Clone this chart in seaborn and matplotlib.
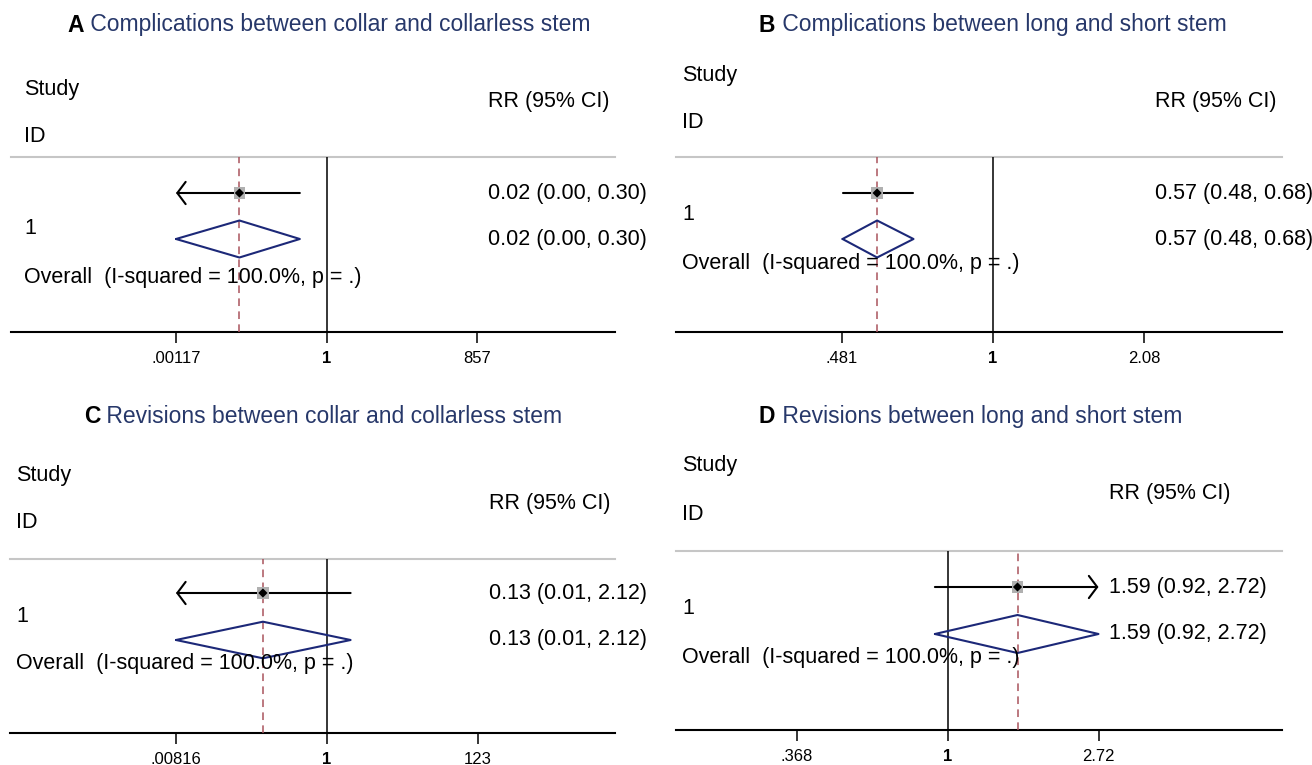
import numpy as np
import matplotlib.pyplot as plt
from matplotlib.ticker import NullLocator
import seaborn as sns

# ---- data ----
panel_letters = ["A", "B", "C", "D"]
panel_titles = [
    "Complications between collar and collarless stem",
    "Complications between long and short stem",
    "Revisions between collar and collarless stem",
    "Revisions between long and short stem",
]
study_ids = ["1", "1", "1", "1"]
rr = [0.02, 0.57, 0.13, 1.59]
ci_low = [0.001, 0.482, 0.007, 0.92]   # A and C lower bounds run off the axis
ci_high = [0.30, 0.68, 2.12, 2.72]     # D upper bound runs off the axis
tick_low = [0.001167, 0.481, 0.00816, 0.3679]
tick_high = [857, 2.08, 122.5, 2.7183]
tick_labels = [
    [".00117", "1", "857"],
    [".481", "1", "2.08"],
    [".00816", "1", "123"],
    [".368", "1", "2.72"],
]
overall_text = "Overall  (I-squared = 100.0%, p = .)"

# ---- layout of each panel, in figure pixels ----
W, H = 1312, 765
layout = [
    dict(left=10.5, right=614.7, null=326.7, span=150.7, top=157, bottom=332,
         title_x=67.5, title_y=25, text_x=24.5, study=90, id=136, head=102,
         point=193, one=229, dia=239, hh=18.5, overall=277),
    dict(left=676, right=1282, null=993, span=151, top=157, bottom=332,
         title_x=759, title_y=25, text_x=682, study=76, id=122, head=102,
         point=193, one=215, dia=239, hh=18.5, overall=263),
    dict(left=10.5, right=615, null=327, span=151, top=559, bottom=733,
         title_x=84, title_y=417, text_x=16, study=476, id=523, head=503,
         point=593, one=616, dia=640, hh=18.3, overall=663),
    dict(left=676, right=1282, null=947.5, span=151, top=551, bottom=730,
         title_x=759, title_y=417, text_x=682, study=466, id=514, head=493,
         point=587, one=609, dia=634, hh=19, overall=657),
]

sns.set_theme(style="white")
plt.rcParams["font.family"] = ["Liberation Sans", "DejaVu Sans"]

navy = "#1c2878"
title_col = "#27386a"
red = "#a9535d"
fs = 15.5

fig = plt.figure(figsize=(W / 100, H / 100), dpi=100)

for i in range(4):
    L = layout[i]
    ax = fig.add_axes([L["left"] / W, 1 - L["bottom"] / H,
                       (L["right"] - L["left"]) / W, (L["bottom"] - L["top"]) / H])
    ax.set_xscale("log")

    lo_c = max(ci_low[i], tick_low[i])
    hi_c = min(ci_high[i], tick_high[i])
    clip_l = ci_low[i] < tick_low[i]
    clip_r = ci_high[i] > tick_high[i]

    # null line and overall effect line
    ax.axvline(1, color="black", lw=1.1, zorder=3)
    ax.axvline(rr[i], color=red, lw=1.1, ls=(0, (5, 3.5)), zorder=3)

    # confidence interval, with arrows where it leaves the axis
    y = L["point"]
    if clip_l or clip_r:
        style = "<->" if (clip_l and clip_r) else "->"
        start, end = (hi_c, lo_c) if clip_l and not clip_r else (lo_c, hi_c)
        ax.annotate("", xy=(end, y), xytext=(start, y),
                    arrowprops=dict(arrowstyle=style + ",head_length=0.6,head_width=0.8",
                                    lw=1.5, color="black", shrinkA=0, shrinkB=0,
                                    mutation_scale=10),
                    zorder=4)
    else:
        ax.plot([lo_c, hi_c], [y, y], color="black", lw=1.5, zorder=4)

    sns.scatterplot(x=[rr[i]], y=[y], marker="s", s=70, color="#b0b0b0",
                    edgecolor="none", ax=ax, zorder=5)
    sns.scatterplot(x=[rr[i]], y=[y], marker="D", s=22, color="black",
                    edgecolor="none", ax=ax, zorder=6)

    # pooled diamond
    d = L["dia"]
    ax.plot([lo_c, rr[i], hi_c, rr[i], lo_c],
            [d, d - L["hh"], d, d + L["hh"], d], color=navy, lw=1.5, zorder=4)

    # axes
    k = np.log(tick_high[i]) / L["span"]
    ax.set_xlim(np.exp((L["left"] - L["null"]) * k), np.exp((L["right"] - L["null"]) * k))
    ax.set_ylim(L["bottom"], L["top"])
    ax.set_xticks([tick_low[i], 1, tick_high[i]])
    ax.set_xticklabels(tick_labels[i])
    ax.xaxis.set_minor_locator(NullLocator())
    ax.set_yticks([])
    ax.set_xlabel("")
    ax.set_ylabel("")
    ax.tick_params(axis="x", direction="out", length=7.9, width=1.1, pad=5.5,
                   labelsize=12, colors="black", bottom=True)
    ax.get_xticklabels()[1].set_fontweight("bold")
    for s in ["left", "right"]:
        ax.spines[s].set_visible(False)
    ax.spines["top"].set_color("#c6c6c6")
    ax.spines["top"].set_linewidth(1.5)
    ax.spines["bottom"].set_color("black")
    ax.spines["bottom"].set_linewidth(1.5)
    ax.patch.set_alpha(0)

    # left text column
    for key, txt in [("study", "Study"), ("id", "ID"), ("one", study_ids[i]),
                     ("overall", overall_text)]:
        fig.text(L["text_x"] / W, 1 - L[key] / H, txt, va="center", ha="left",
                 fontsize=fs, color="black", zorder=1)

    # right text column
    lab = f"{rr[i]:.2f} ({ci_low[i]:.2f}, {ci_high[i]:.2f})"
    for yy, txt in [(L["head"], "RR (95% CI)"), (y, lab), (d, lab)]:
        ax.annotate(txt, xy=(tick_high[i], yy), xycoords="data", xytext=(7.9, 0),
                    textcoords="offset points", va="center", ha="left",
                    fontsize=fs, color="black", annotation_clip=False)

    # title
    t = fig.text(L["title_x"] / W, 1 - L["title_y"] / H, panel_letters[i],
                 fontweight="bold", fontsize=16.5, color="black", va="center", ha="left")
    ax.annotate(" " + panel_titles[i], xy=(1, 0), xycoords=t, va="bottom", ha="left",
                fontsize=16.5, color=title_col, annotation_clip=False)

fig.savefig("out.png", dpi=100)
